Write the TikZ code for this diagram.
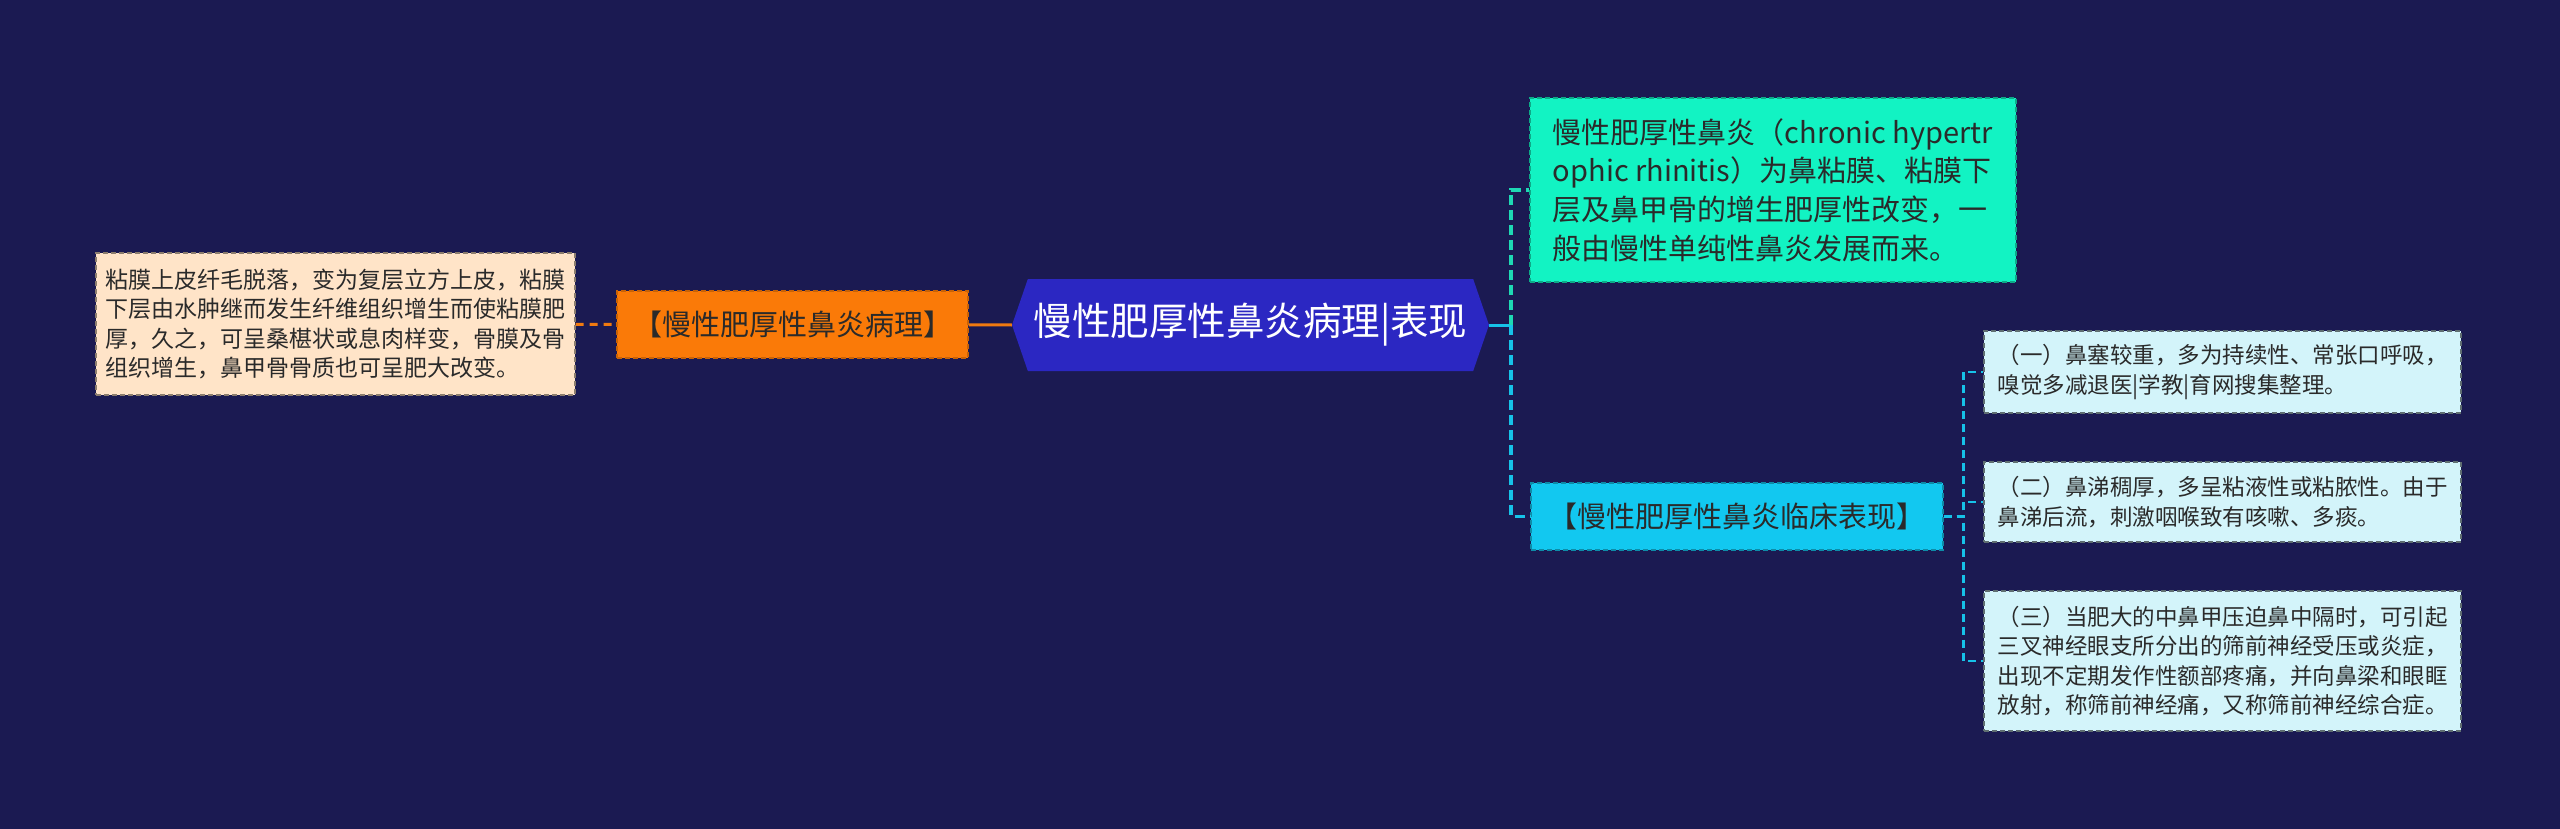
\documentclass[tikz,border=0pt]{standalone}
\usepackage{fontspec}
\setmainfont{Noto Sans CJK SC}
\usetikzlibrary{positioning, calc, shapes.symbols}

\definecolor{bgnavy}{HTML}{1B1A52}
\definecolor{hubblue}{HTML}{2B27C2}
\definecolor{orangefill}{HTML}{FA7A08}
\definecolor{orangeline}{HTML}{F07A10}
\definecolor{peachfill}{HTML}{FFE4C8}
\definecolor{tealfill}{HTML}{12F3C3}
\definecolor{tealline}{HTML}{1ED8B4}
\definecolor{cyanfill}{HTML}{12C8F0}
\definecolor{cyanline}{HTML}{16C2E8}
\definecolor{palefill}{HTML}{D3F4FA}
\definecolor{txtdark}{HTML}{2A2A2A}

\begin{document}
\begin{tikzpicture}[x=1pt, y=-1pt,
    box/.style={rectangle, draw, line width=1.3pt, dash pattern=on 5pt off 3pt,
        inner sep=0pt, align=left, text=txtdark},
    link/.style={line width=3.5pt, dash pattern=on 10pt off 5pt},
    sublink/.style={line width=2.2pt, dash pattern=on 8pt off 5pt},
    ]
    \fill[bgnavy] (0, 0) rectangle (2560, 829);
    \useasboundingbox (0, 0) rectangle (2560, 829);

    % centre topic
    \node[signal, signal to=west and east, signal pointer angle=142, fill=hubblue,
        minimum width=477pt, minimum height=92pt, inner sep=0pt, text=white,
        font=\fontsize{38.5}{44}\selectfont] (hub) at (1250.5, 325) {慢性肥厚性鼻炎病理|表现};

    % left branch
    \node[box, fill=orangefill, draw=orangefill!80!black, minimum width=351pt, minimum height=67pt,
        font=\fontsize{29}{36}\selectfont] (patho) at (792.5, 324.5) {【慢性肥厚性鼻炎病理】};
    \node[box, fill=peachfill, draw=peachfill!55!black, minimum width=479pt, minimum height=142pt,
        font=\fontsize{23}{29.5}\selectfont] (pathotext) at (335.5, 324)
        {粘膜上皮纤毛脱落，变为复层立方上皮，粘膜\\下层由水肿继而发生纤维组织增生而使粘膜肥\\厚，久之，可呈桑椹状或息肉样变，骨膜及骨\\组织增生，鼻甲骨骨质也可呈肥大改变。};

    % right branches
    \node[box, fill=tealfill, draw=tealfill!70!black, minimum width=486pt, minimum height=184pt,
        font=\fontsize{29}{38.7}\selectfont] (defn) at (1773, 190)
        {慢性肥厚性鼻炎（chronic hypertr\\ophic rhinitis）为鼻粘膜、粘膜下\\层及鼻甲骨的增生肥厚性改变，一\\般由慢性单纯性鼻炎发展而来。};
    \node[box, fill=cyanfill, draw=cyanfill!70!black, minimum width=412pt, minimum height=67pt,
        font=\fontsize{29}{36}\selectfont] (clinic) at (1737, 516.5) {【慢性肥厚性鼻炎临床表现】};

    \node[box, fill=palefill, draw=palefill!45!black, minimum width=477pt, minimum height=82pt,
        font=\fontsize{22.5}{29.4}\selectfont] (signa) at (2222.5, 372)
        {（一）鼻塞较重，多为持续性、常张口呼吸，\\嗅觉多减退医|学教|育网搜集整理。};
    \node[box, fill=palefill, draw=palefill!45!black, minimum width=477pt, minimum height=80pt,
        font=\fontsize{22.5}{29.4}\selectfont] (signb) at (2222.5, 502)
        {（二）鼻涕稠厚，多呈粘液性或粘脓性。由于\\鼻涕后流，刺激咽喉致有咳嗽、多痰。};
    \node[box, fill=palefill, draw=palefill!45!black, minimum width=477pt, minimum height=140pt,
        font=\fontsize{22.5}{29.4}\selectfont] (signc) at (2222.5, 661)
        {（三）当肥大的中鼻甲压迫鼻中隔时，可引起\\三叉神经眼支所分出的筛前神经受压或炎症，\\出现不定期发作性额部疼痛，并向鼻梁和眼眶\\放射，称筛前神经痛，又称筛前神经综合症。};

    \coordinate (rj) at (1511, 325);
    \coordinate (cj) at (1963.5, 516.5);

    \draw[link, orangeline, line width=3pt, dash pattern=on 8pt off 6pt] (pathotext) -- (patho);
    \draw[orangeline, line width=3pt] (patho) -- (hub.west);
    \draw[cyanline, line width=3pt] (hub.east) -- (rj);
    \draw[link, tealline] (rj) |- (defn.west);
    \draw[link, cyanline] (rj) |- (clinic.west);
    \foreach \s in {signa, signb, signc}
        \draw[sublink, cyanline] (clinic.east) -- (cj) |- (\s.west);

\end{tikzpicture}
\end{document}
